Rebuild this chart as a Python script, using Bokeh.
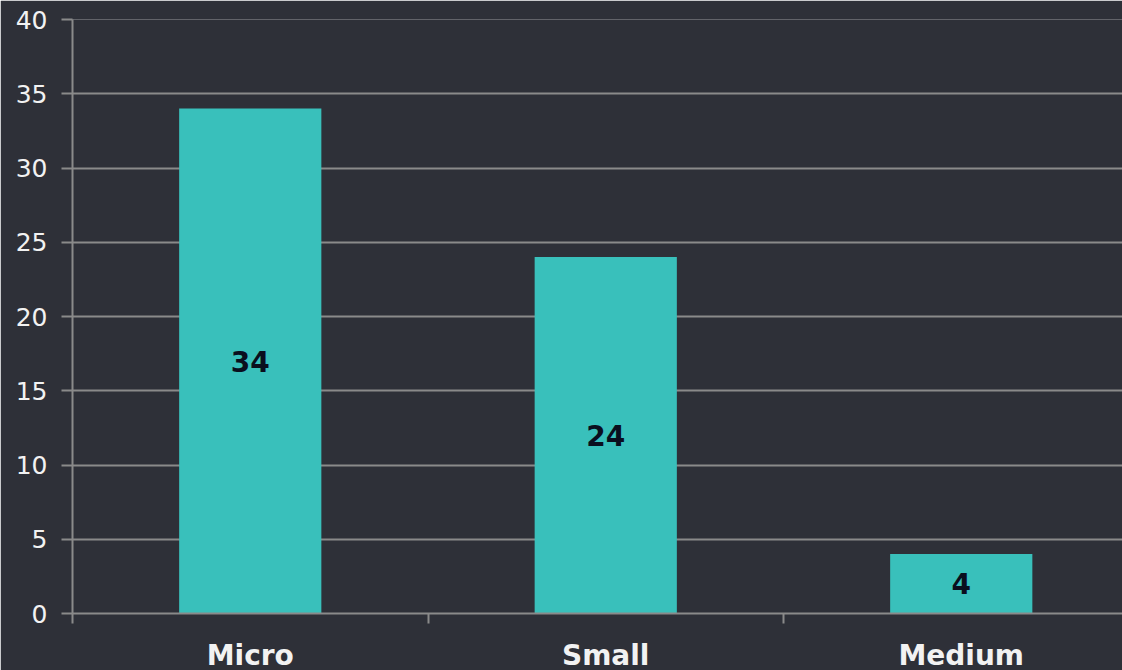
from bokeh.plotting import figure
from bokeh.models import Range1d, FixedTicker, ColumnDataSource, LabelSet
from bokeh.core.properties import value
from bokeh.embed import file_html
from bokeh.resources import INLINE

categories = ["Micro", "Small", "Medium"]
values = [34, 24, 4]
y_ticks = [0, 5, 10, 15, 20, 25, 30, 35, 40]

BG = "#2e3038"
BAR = "#39c0bb"
GRID = "#8a8a8a"
TXT = "#f2f2f2"

xs = list(range(len(categories)))
src = ColumnDataSource(dict(x=xs, top=values, mid=[v / 2 for v in values],
                            lab=[str(v) for v in values]))

p = figure(width=1122, height=670, output_backend="svg", toolbar_location=None,
           x_range=Range1d(-0.5, -0.5 + 1050 / 355.5), y_range=Range1d(0, 40),
           frame_width=1050, frame_height=594,
           min_border_left=72, min_border_right=0, min_border_top=19, min_border_bottom=57,
           background_fill_color=BG, border_fill_color=BG, outline_line_color=None)

p.vbar(x="x", top="top", bottom=0, width=0.4, source=src, fill_color=BAR, line_color=None)

labels = LabelSet(x="x", y="mid", text="lab", source=src, text_align="center",
                  text_baseline="middle", text_font=value("DejaVu Sans"),
                  text_font_style="bold", text_font_size="28px", text_color="#0a0f1e")
p.add_layout(labels)

# y axis
p.yaxis.ticker = FixedTicker(ticks=y_ticks)
p.yaxis.axis_line_color = GRID
p.yaxis.axis_line_width = 2
p.yaxis.major_tick_line_color = GRID
p.yaxis.major_tick_line_width = 2
p.yaxis.major_tick_out = 11
p.yaxis.major_tick_in = 0
p.yaxis.minor_tick_line_color = None
p.yaxis.major_label_text_color = TXT
p.yaxis.major_label_text_font = "DejaVu Sans"
p.yaxis.major_label_text_font_size = "25px"
p.yaxis.major_label_standoff = 14

# x axis
p.xaxis.ticker = FixedTicker(ticks=xs, minor_ticks=[-0.5, 0.5, 1.5])
p.xaxis.major_label_overrides = {i: c for i, c in enumerate(categories)}
p.xaxis.axis_line_color = GRID
p.xaxis.axis_line_width = 2
p.xaxis.major_tick_line_color = None
p.xaxis.major_tick_out = 0
p.xaxis.major_tick_in = 0
p.xaxis.minor_tick_line_color = GRID
p.xaxis.minor_tick_line_width = 2
p.xaxis.minor_tick_out = 10
p.xaxis.minor_tick_in = 0
p.xaxis.major_label_text_color = TXT
p.xaxis.major_label_text_font = "DejaVu Sans"
p.xaxis.major_label_text_font_style = "bold"
p.xaxis.major_label_text_font_size = "28px"
p.xaxis.major_label_standoff = 15

p.xgrid.grid_line_color = None
p.ygrid.ticker = FixedTicker(ticks=y_ticks)
p.ygrid.grid_line_color = GRID
p.ygrid.grid_line_width = 2

open("out.html", "w").write(file_html(p, INLINE))
